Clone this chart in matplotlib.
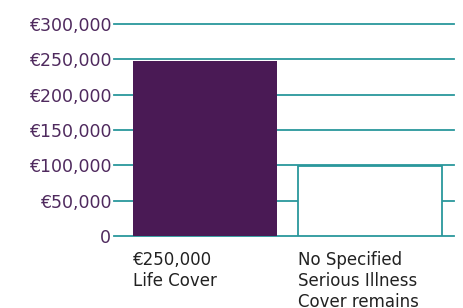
import numpy as np
import matplotlib.pyplot as plt
from matplotlib.ticker import FuncFormatter

# chart data
categories = ['€250,000\nLife Cover', 'No Specified\nSerious Illness\nCover remains']
values = [247500, 99000]
y_ticks = [0, 50000, 100000, 150000, 200000, 250000, 300000]

purple = '#4a1a55'
teal = '#2a979c'
label_purple = '#4f2a5e'

fig = plt.figure(figsize=(4.64, 3.08), dpi=100)
# axes placed in pixel terms: left 114, right 454, bottom 236, top 24
ax = fig.add_axes([114/464, (308-236)/308, 340/464, 212/308])

pos = np.arange(len(categories))
width = 0.873
ax.bar(pos[0], values[0], width=width, color=purple, zorder=3)
ax.bar(pos[1], values[1], width=width, facecolor='white', edgecolor=teal,
       linewidth=1.3, zorder=3)

ax.set_ylim(0, 300000)
ax.set_xlim(-0.552, 1.509)
ax.set_yticks(y_ticks)
ax.yaxis.set_major_formatter(FuncFormatter(lambda v, p: '0' if v == 0 else f'€{int(v):,}'))
ax.grid(axis='y', color=teal, linewidth=1.3, zorder=0)
ax.set_axisbelow(True)
for s in ax.spines.values():
    s.set_visible(False)
for gl in ax.get_ygridlines():
    gl.set_clip_on(False)

ax.tick_params(axis='y', length=0, pad=2, labelsize=12.5, labelcolor=label_purple)
ax.set_xticks(pos - width/2)
ax.set_xticklabels(categories, ha='left', va='top', fontsize=12, color='#222222',
                   linespacing=1.2)
ax.tick_params(axis='x', length=0, pad=11)

fig.savefig('out.png', dpi=100)
